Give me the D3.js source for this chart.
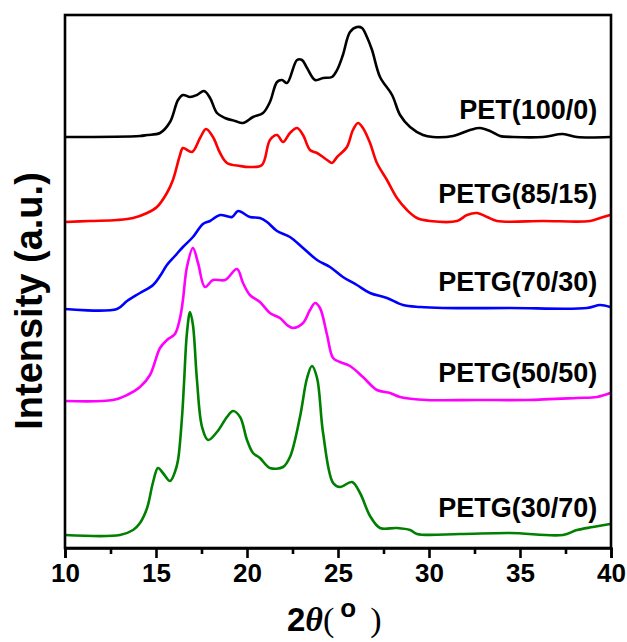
<!DOCTYPE html>
<html>
<head>
<meta charset="utf-8">
<script src="https://cdn.jsdelivr.net/npm/d3@7"></script>
<style>
body{margin:0;background:#fff;}
.line{fill:none;stroke-width:2.6px;stroke-linejoin:round;}
.axis path,.axis line{stroke:#000;stroke-width:2.6px;}
.axis text{font-family:"Liberation Sans",Arial,sans-serif;font-weight:bold;font-size:26px;fill:#000;}
.tag{font-family:"Liberation Sans",Arial,sans-serif;font-weight:bold;font-size:27px;text-anchor:end;}
</style>
</head>
<body>
<div class="graph"></div>
<script>
'use strict';
// [2theta, intensity above own baseline]
var pet = [
    [10.00,0],[14.12,1],[14.51,2],[15.22,4],[15.77,15],[16.21,37],[16.48,42],[16.87,40],
    [17.25,42],[17.64,46],[17.97,39],[18.35,24],[18.79,19],[19.34,16],[19.78,14],[20.33,20],
    [20.88,24],[21.26,35],[21.65,55],[21.92,57],[22.20,54],[22.75,77],[23.02,77],[23.30,69],
    [23.74,57],[24.18,59],[24.67,60],[24.95,67],[25.27,82],[25.66,105],[26.04,110],[26.32,109],
    [26.59,100],[26.87,87],[27.31,60],[27.97,42],[28.41,22],[28.96,10],[29.67,2],[30.22,0],
    [31.32,1],[32.25,7],[32.80,9],[33.35,6],[33.90,1],[34.62,0],[36.26,0],[37.36,3],[38.13,0],[39.95,0]
];
var petg8515 = [
    [10.00,-1],[11.37,0],[12.86,1],[13.74,3],[14.51,8],[15.05,14],[15.60,28],[15.93,41],
    [16.32,66],[16.48,73],[16.98,69],[17.42,83],[17.75,92],[18.13,84],[18.52,68],[18.90,58],
    [19.62,55],[20.16,54],[20.82,56],[21.26,81],[21.65,86],[21.98,79],[22.36,88],[22.75,93],
    [23.08,86],[23.46,71],[23.85,68],[24.40,61],[24.67,58],[24.95,64],[25.49,74],[25.82,91],
    [26.10,98],[26.37,93],[26.76,78],[27.14,58],[27.69,41],[28.24,23],[28.79,11],[29.34,3],
    [30.05,0],[31.54,0],[32.09,6],[32.64,8],[33.19,4],[33.74,0],[36.26,0],[38.85,0],[39.40,3],[39.95,6]
];
var petg7030 = [
    [10.00,0],[12.86,0],[13.41,8],[14.12,16],[14.84,24],[15.22,33],[15.60,44],[16.04,53],
    [16.48,62],[17.03,72],[17.58,85],[17.97,88],[18.52,94],[19.18,92],[19.51,98],[20.16,92],
    [20.71,91],[21.10,87],[21.65,78],[22.36,72],[23.08,61],[23.85,49],[24.56,42],[25.27,32],
    [26.04,24],[26.76,16],[27.69,11],[28.57,4],[29.51,2],[30.77,1],[34.45,1],[38.68,1],[39.40,4],[39.95,2]
];
var petg5050 = [
    [10.00,-1],[12.64,0],[13.41,5],[14.12,13],[14.67,25],[15.22,52],[15.60,60],[16.04,66],
    [16.32,82],[16.48,100],[16.70,133],[17.03,152],[17.31,137],[17.69,113],[18.13,120],[18.79,120],
    [19.45,131],[19.78,117],[20.16,105],[20.71,98],[21.26,87],[21.81,82],[22.20,75],[22.53,72],
    [23.08,77],[23.46,90],[23.74,97],[24.01,92],[24.40,65],[24.73,42],[25.11,38],[25.66,34],
    [26.37,23],[27.14,10],[27.86,7],[28.41,3],[29.89,0],[32.64,0],[35.38,0],[38.13,2],[39.23,3],[39.95,7]
];
var petg3070 = [
    [10.00,0],[13.02,0],[13.74,5],[14.12,12],[14.51,27],[14.84,53],[15.11,67],[15.38,62],
    [15.77,54],[16.04,63],[16.21,75],[16.43,118],[16.54,152],[16.70,202],[16.87,223],[17.03,210],
    [17.25,155],[17.53,108],[17.86,95],[18.35,103],[18.90,118],[19.23,124],[19.62,118],[20.00,95],
    [20.33,82],[20.71,77],[21.26,67],[21.98,68],[22.36,78],[22.91,118],[23.30,157],[23.57,169],
    [23.85,157],[24.18,102],[24.73,52],[25.11,48],[25.77,53],[26.21,42],[26.76,19],[27.31,7],
    [28.24,7],[28.96,5],[29.34,1],[31.70,1],[34.45,2],[37.36,0],[38.13,5],[39.01,8],[39.95,11]
];
var names = ["PET(100/0)","PETG(85/15)","PETG(70/30)","PETG(50/50)","PETG(30/70)"];
var offsets = [411, 327, 239, 148, 13];
var xTicks = [10, 15, 20, 25, 30, 35, 40];
var xMinorTicks = [12.5, 17.5, 22.5, 27.5, 32.5, 37.5];

var series = [pet, petg8515, petg7030, petg5050, petg3070];
var colors = ["#000000", "#ff0000", "#0000ff", "#ff00ff", "#008000"];

var drawGraph = function(){
    var margin = {top: 15, right: 16, bottom: 94, left: 65},
        width = 627 - margin.left - margin.right,
        height = 642 - margin.top - margin.bottom;

    var x = d3.scaleLinear().domain([10, 40]).range([0, width]);
    var y = d3.scaleLinear().domain([0, 533]).range([height, 0]);

    var svg = d3.select(".graph").append("svg")
        .attr("width", 627)
        .attr("height", 642)
        .append("g")
        .attr("transform", "translate(" + margin.left + "," + margin.top + ")");

    // one line per sample, lifted by its offset
    series.forEach(function(data, i){
        var valueline = d3.line()
            .curve(d3.curveCatmullRom.alpha(0.5))
            .x(function(d) { return x(d[0]); })
            .y(function(d) { return y(d[1] + offsets[i]); });
        svg.append("path")
            .data([data])
            .attr("class", "line")
            .attr("stroke", colors[i])
            .attr("d", valueline);
        svg.append("text")
            .attr("class", "tag")
            .attr("x", x(39.25))
            .attr("y", y(offsets[i] + 18))
            .text(names[i]);
    });

    // frame
    svg.append("rect")
        .attr("width", width)
        .attr("height", height)
        .attr("fill", "none")
        .attr("stroke", "#000")
        .attr("stroke-width", 2.6);

    // x axis, major + minor ticks
    svg.append("g")
        .attr("class", "axis")
        .attr("transform", "translate(0," + height + ")")
        .call(d3.axisBottom(x).tickValues(xTicks).tickSize(10).tickPadding(6).tickFormat(d3.format("d")));
    svg.append("g")
        .attr("class", "axis")
        .attr("transform", "translate(0," + height + ")")
        .call(d3.axisBottom(x).tickValues(xMinorTicks).tickSize(6).tickFormat(""))
        .select(".domain").remove();

    // y label
    svg.append("text")
        .attr("transform", "translate(-23,286) rotate(-90)")
        .attr("text-anchor", "middle")
        .style("font-family", "'Liberation Sans',Arial,sans-serif")
        .style("font-weight", "bold")
        .style("font-size", "38px")
        .text("Intensity (a.u.)");

    // x label: 2θ(°)
    var xl = svg.append("text")
        .attr("x", 222)
        .attr("y", 616)
        .style("font-weight", "bold");
    xl.append("tspan")
        .style("font-family", "'Liberation Sans',Arial,sans-serif")
        .style("font-size", "33px")
        .text("2");
    xl.append("tspan")
        .style("font-family", "'Liberation Serif','Times New Roman',serif")
        .style("font-style", "italic")
        .style("font-size", "34px")
        .text("θ");
    xl.append("tspan")
        .style("font-family", "'Liberation Serif','Times New Roman',serif")
        .style("font-weight", "normal")
        .style("font-size", "34px")
        .text("(");
    xl.append("tspan")
        .attr("dx", 6)
        .attr("dy", -14)
        .style("font-family", "'Liberation Sans',Arial,sans-serif")
        .style("font-size", "26px")
        .text("o");
    xl.append("tspan")
        .attr("dx", 14)
        .attr("dy", 14)
        .style("font-family", "'Liberation Serif','Times New Roman',serif")
        .style("font-weight", "normal")
        .style("font-size", "34px")
        .text(")");
};

drawGraph();
</script>
</body>
</html>
